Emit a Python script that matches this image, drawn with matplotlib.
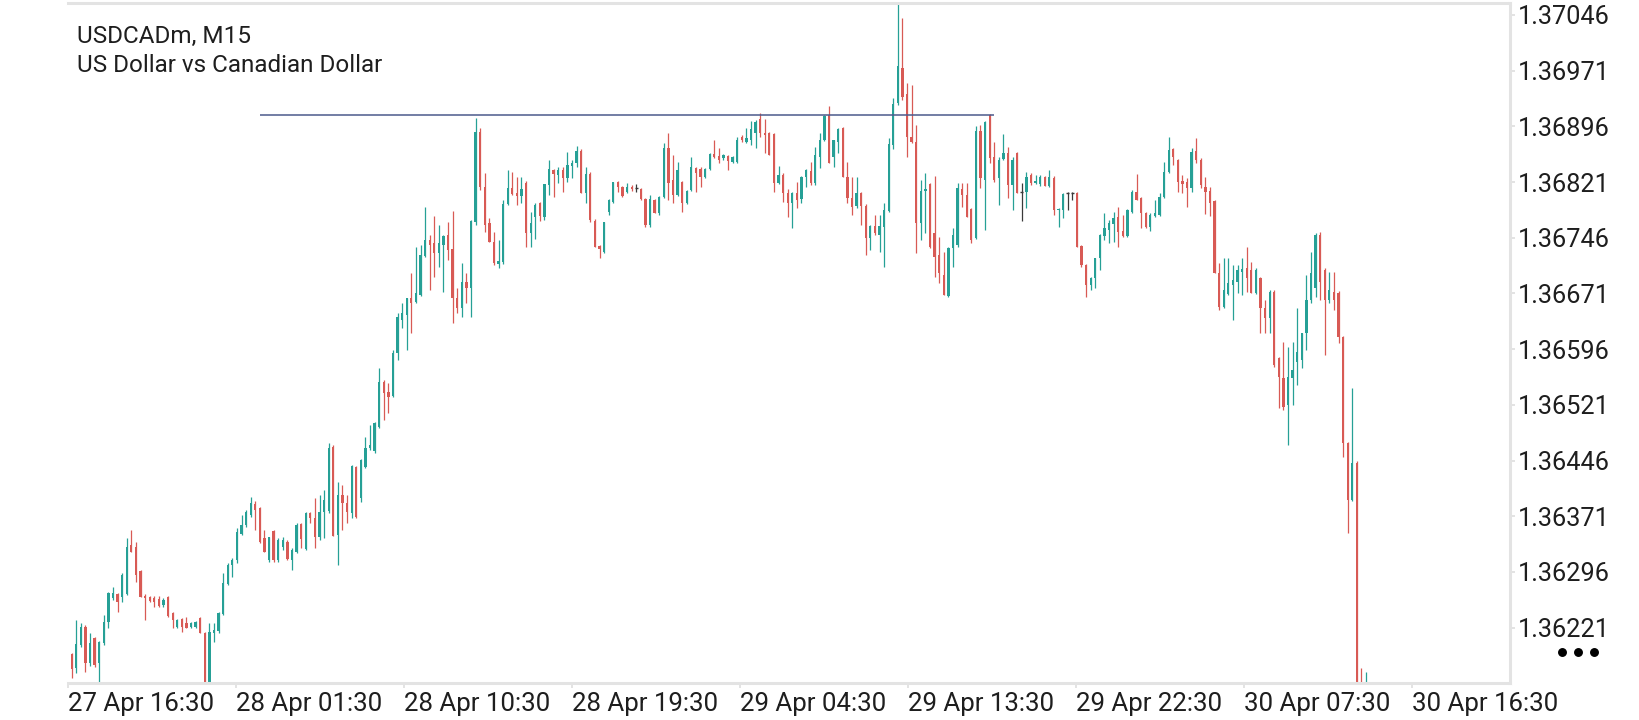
import numpy as np
import matplotlib
matplotlib.use("Agg")
import matplotlib.pyplot as plt
from matplotlib.lines import Line2D

plt.rcParams['font.family'] = ['Roboto', 'DejaVu Sans']

# USDCADm M15 candles, prices in points (1e-5) above 1.36000
base = 1.36000
open_pts = [
    186, 167, 198, 222, 173, 207, 173, 200, 229, 261,
    266, 262, 266, 332, 330, 297, 264, 262, 261, 260,
    252, 262, 241, 222, 233, 227, 222, 222, 234, 214,
    110, 214, 217, 239, 280, 305, 312, 347, 359, 373,
    388, 382, 342, 312, 351, 312, 330, 336, 312, 323,
    361, 327, 375, 369, 343, 377, 378, 464, 346, 400,
    389, 375, 437, 396, 437, 463, 459, 491, 552, 538,
    533, 591, 635, 642, 665, 660, 669, 721, 743, 739,
    726, 736, 750, 731, 665, 652, 686, 678, 767, 888,
    814, 766, 740, 711, 713, 791, 813, 806, 802, 820,
    752, 774, 793, 774, 817, 837, 831, 837, 827, 843,
    847, 863, 806, 832, 769, 735, 727, 781, 794, 821,
    814, 808, 814, 813, 812, 798, 763, 797, 779, 801,
    867, 824, 804, 821, 793, 810, 840, 839, 828, 839,
    859, 856, 853, 856, 848, 848, 882, 875, 878, 887,
    906, 887, 887, 886, 820, 831, 806, 793, 806, 798,
    828, 836, 820, 855, 878, 911, 855, 875, 894, 828,
    800, 789, 806, 789, 746, 762, 750, 761, 782, 871,
    927, 975, 940, 882, 875, 766, 809, 818, 752, 723,
    696, 668, 732, 736, 812, 804, 785, 746, 890, 824,
    911, 855, 827, 852, 860, 817, 860, 808, 808, 831,
    820, 818, 828, 816, 827, 783, 783, 806, 806, 806,
    735, 709, 682, 692, 719, 748, 756, 765, 774, 755,
    748, 781, 808, 800, 779, 760, 775, 777, 801, 835,
    866, 851, 822, 821, 813, 863, 851, 814, 809, 795,
    699, 653, 670, 682, 686, 700, 705, 703, 672, 692,
    651, 638, 673, 584, 557, 521, 557, 579, 581, 618,
    662, 678, 750, 703, 662, 673, 672, 612, 470, 393,
    443, 90, 63,
]
high_pts = [
    187, 231, 227, 225, 214, 208, 203, 238, 269, 276,
    268, 295, 342, 353, 336, 299, 266, 264, 264, 264,
    261, 264, 242, 233, 234, 235, 229, 230, 235, 215,
    227, 227, 242, 295, 308, 315, 355, 373, 379, 397,
    391, 383, 353, 343, 353, 342, 343, 339, 328, 362,
    362, 377, 377, 396, 400, 406, 470, 467, 417, 413,
    400, 440, 439, 448, 478, 494, 498, 571, 555, 550,
    595, 645, 658, 665, 699, 734, 736, 787, 750, 775,
    763, 750, 767, 782, 678, 712, 699, 770, 907, 894,
    833, 773, 754, 743, 797, 837, 835, 828, 828, 822,
    781, 793, 794, 818, 851, 839, 841, 841, 861, 851,
    870, 865, 841, 834, 771, 736, 767, 798, 821, 823,
    816, 820, 817, 818, 813, 800, 804, 798, 802, 874,
    887, 857, 848, 823, 810, 855, 841, 841, 840, 860,
    878, 867, 859, 858, 856, 882, 884, 894, 903, 905,
    914, 906, 888, 887, 843, 833, 812, 808, 821, 829,
    839, 848, 868, 887, 911, 923, 878, 894, 895, 848,
    828, 828, 808, 791, 763, 777, 777, 793, 880, 934,
    1061, 1042, 954, 952, 898, 824, 833, 820, 829, 747,
    727, 734, 759, 820, 820, 820, 786, 896, 898, 903,
    913, 875, 855, 886, 868, 855, 862, 820, 835, 833,
    831, 831, 829, 837, 829, 786, 806, 808, 808, 808,
    736, 711, 693, 719, 751, 779, 770, 781, 787, 777,
    785, 810, 832, 801, 781, 779, 797, 806, 848, 882,
    867, 852, 831, 827, 867, 880, 853, 828, 814, 797,
    712, 719, 719, 709, 709, 719, 734, 713, 705, 693,
    662, 676, 675, 585, 606, 599, 606, 651, 618, 696,
    727, 752, 754, 705, 700, 700, 674, 614, 471, 544,
    445, 167, 161,
]
low_pts = [
    153, 160, 195, 161, 170, 168, 142, 197, 221, 258,
    242, 256, 265, 323, 283, 262, 231, 256, 249, 249,
    249, 235, 221, 221, 215, 221, 220, 220, 214, 97,
    97, 202, 214, 238, 278, 289, 308, 346, 357, 370,
    353, 335, 323, 309, 309, 309, 326, 312, 299, 321,
    328, 326, 362, 328, 339, 342, 375, 344, 305, 353,
    362, 369, 369, 390, 436, 460, 456, 490, 501, 510,
    532, 581, 625, 595, 618, 658, 667, 720, 676, 693,
    707, 673, 716, 631, 645, 639, 658, 639, 763, 810,
    754, 740, 709, 705, 711, 790, 804, 790, 793, 734,
    734, 744, 769, 770, 804, 801, 820, 808, 821, 827,
    841, 806, 793, 767, 734, 719, 726, 777, 793, 808,
    801, 806, 809, 808, 797, 760, 761, 779, 777, 799,
    797, 793, 802, 781, 791, 809, 808, 814, 826, 837,
    853, 847, 851, 837, 846, 846, 875, 874, 871, 867,
    882, 860, 857, 808, 818, 794, 774, 759, 786, 793,
    814, 817, 817, 840, 876, 847, 841, 860, 828, 793,
    777, 786, 763, 723, 730, 750, 727, 707, 780, 866,
    925, 932, 855, 874, 726, 743, 752, 732, 693, 685,
    669, 666, 707, 734, 787, 774, 739, 744, 813, 757,
    847, 821, 790, 851, 800, 783, 806, 769, 786, 817,
    818, 816, 816, 814, 777, 760, 773, 783, 797, 734,
    707, 666, 676, 678, 703, 743, 739, 740, 734, 747,
    747, 779, 797, 759, 759, 755, 774, 775, 799, 833,
    844, 808, 806, 787, 808, 847, 813, 778, 775, 699,
    649, 651, 669, 635, 672, 669, 673, 672, 670, 618,
    618, 618, 572, 517, 514, 467, 521, 548, 571, 595,
    658, 666, 662, 588, 658, 649, 604, 451, 349, 391,
    70, 43, 29,
]
close_pts = [
    165, 199, 222, 173, 200, 171, 202, 229, 268, 268,
    256, 292, 330, 323, 292, 262, 261, 257, 256, 250,
    258, 237, 231, 231, 222, 221, 227, 229, 214, 110,
    215, 218, 241, 281, 305, 312, 350, 359, 377, 389,
    379, 336, 323, 343, 312, 339, 339, 313, 326, 359,
    340, 375, 369, 343, 377, 393, 463, 344, 400, 389,
    377, 439, 370, 447, 463, 467, 497, 552, 537, 532,
    591, 639, 645, 665, 658, 672, 723, 743, 736, 726,
    739, 748, 730, 665, 652, 686, 678, 769, 888, 814,
    763, 740, 712, 715, 791, 813, 805, 802, 812, 752,
    766, 790, 775, 818, 839, 832, 837, 827, 844, 847,
    863, 806, 832, 770, 734, 731, 767, 797, 821, 814,
    802, 814, 812, 813, 798, 763, 798, 779, 801, 867,
    820, 804, 837, 793, 809, 841, 833, 828, 839, 859,
    855, 851, 857, 849, 855, 878, 878, 880, 892, 902,
    887, 884, 857, 820, 831, 806, 793, 806, 797, 828,
    837, 820, 857, 878, 910, 847, 878, 892, 828, 800,
    787, 806, 789, 746, 762, 752, 762, 783, 872, 926,
    977, 936, 882, 875, 766, 809, 812, 734, 720, 699,
    669, 732, 750, 813, 804, 774, 743, 890, 827, 902,
    853, 824, 851, 860, 817, 851, 806, 808, 828, 820,
    822, 828, 816, 828, 783, 785, 805, 806, 806, 734,
    709, 682, 692, 719, 750, 759, 766, 773, 754, 748,
    783, 808, 797, 779, 760, 777, 779, 801, 835, 864,
    855, 821, 818, 813, 862, 851, 817, 808, 793, 699,
    653, 676, 685, 689, 703, 704, 692, 672, 703, 651,
    638, 673, 575, 559, 518, 559, 568, 592, 618, 662,
    699, 750, 686, 662, 676, 662, 612, 470, 393, 443,
    83, 70, 76,
]

price_ticks = [1.36221, 1.36296, 1.36371, 1.36446, 1.36521, 1.36596,
               1.36671, 1.36746, 1.36821, 1.36896, 1.36971, 1.37046]
time_labels = ['27 Apr 16:30', '28 Apr 01:30', '28 Apr 10:30', '28 Apr 19:30',
               '29 Apr 04:30', '29 Apr 13:30', '29 Apr 22:30', '30 Apr 07:30',
               '30 Apr 16:30']
level_price = 1.36911
level_from_bar = 41
level_to_bar = 201

n = min(len(open_pts), len(high_pts), len(low_pts), len(close_pts))
o = base + np.array(open_pts[:n]) / 1e5
h = base + np.array(high_pts[:n]) / 1e5
l = base + np.array(low_pts[:n]) / 1e5
c = base + np.array(close_pts[:n]) / 1e5
x = np.arange(n)

green = '#26a096'
red = '#d85a55'
doji = '#3a3a3a'
frame = '#e3e3e3'

W, H = 1640, 720
fig = plt.figure(figsize=(W / 100, H / 100), dpi=100)
ax = fig.add_axes([68 / W, 37 / H, 1442 / W, 680 / H])

up = c > o
dn = c < o
fl = c == o
min_body = 0.000013

ax.vlines(x[up], l[up], h[up], color=green, lw=0.9)
ax.vlines(x[dn], l[dn], h[dn], color=red, lw=0.9)
ax.vlines(x[fl], l[fl], h[fl], color=doji, lw=0.9)
ax.bar(x[up], np.maximum(c[up] - o[up], min_body), bottom=o[up], width=0.5,
       color=green, lw=0)
ax.bar(x[dn], np.maximum(o[dn] - c[dn], min_body), bottom=c[dn], width=0.5,
       color=red, lw=0)
ax.hlines(o[fl], x[fl] - 0.3, x[fl] + 0.3, color=doji, lw=1)

ax.hlines(level_price, level_from_bar, level_to_bar, color='#4b5a8c', lw=1.1)

bar_px = 4.59
left = -0.8
ax.set_xlim(left, left + 1442 / bar_px)
ax.set_ylim(1.361465, 1.37062)

step = 168 / bar_px
ax.set_xticks([left + k * step for k in range(len(time_labels))])
ax.set_xticklabels(time_labels, ha='left')
ax.yaxis.tick_right()
ax.set_yticks(price_ticks)
ax.set_yticklabels([f'{p:.5f}' for p in price_ticks])

ax.tick_params(axis='both', length=3.6, width=1.4, color=frame,
               labelcolor='#1e1e1e')
ax.tick_params(axis='x', pad=3, labelsize=18.6)
ax.tick_params(axis='y', pad=2, labelsize=18.2)

for side in ['top', 'right', 'bottom']:
    ax.spines[side].set_color(frame)
    ax.spines[side].set_linewidth(2.2)
ax.spines['left'].set_visible(False)

fig.text(77 / W, 1 - 43 / H, 'USDCADm, M15', fontsize=17.5, color='#1e1e1e',
         va='baseline')
fig.text(77 / W, 1 - 72 / H, 'US Dollar vs Canadian Dollar', fontsize=17.5,
         color='#1e1e1e', va='baseline')

fig.add_artist(Line2D([1562 / W, 1578 / W, 1594 / W], [1 - 652 / H] * 3,
                      transform=fig.transFigure, ls='none', marker='o',
                      ms=5.4, color='black'))

fig.savefig('out.png', dpi=100)
